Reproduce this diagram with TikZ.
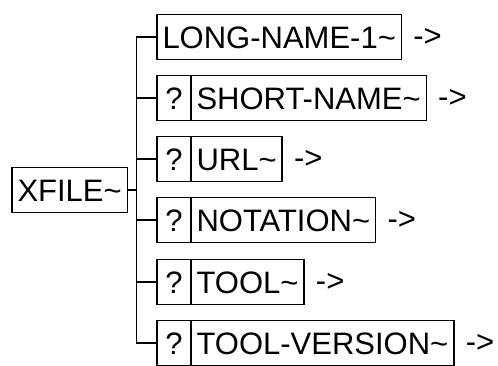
\documentclass[tikz,border=0pt]{standalone}
\usepackage{fontspec}
\setmainfont{Liberation Sans}
\usetikzlibrary{positioning}

\begin{document}
\begin{tikzpicture}[x=1pt, y=-1pt, line width=1.4pt,
  every node/.style={font=\fontsize{31}{34}\selectfont, outer sep=0pt},
  elem/.style={draw, minimum height=45pt, inner xsep=5.5pt, inner ysep=0pt, text height=22pt, text depth=0pt, anchor=west},
  opt/.style={elem, minimum width=34pt, inner xsep=0pt}]
\useasboundingbox (0,0) rectangle (498,365);
\node[elem] (xfile) at (12,190) {XFILE\textasciitilde};
\node[elem] (n1) at (157,37) {LONG-NAME-1\textasciitilde};
\node[opt] (q2) at (157,98) {?};
\node[elem, right=0pt of q2] (n2) {SHORT-NAME\textasciitilde};
\node[opt] (q3) at (157,159) {?};
\node[elem, right=0pt of q3] (n3) {URL\textasciitilde};
\node[opt] (q4) at (157,220) {?};
\node[elem, right=0pt of q4] (n4) {NOTATION\textasciitilde};
\node[opt] (q5) at (157,282) {?};
\node[elem, right=0pt of q5] (n5) {TOOL\textasciitilde};
\node[opt] (q6) at (157,343) {?};
\node[elem, right=0pt of q6] (n6) {TOOL-VERSION\textasciitilde};
% continuation marks
\foreach \r in {1,...,6} \node[inner sep=0pt, right=12pt of n\r] (a\r) {->};
% tree lines
\draw (xfile.east) -- ++(9,0) coordinate (trunk);
\draw (n1.west) -- (trunk |- n1.west) -- (trunk |- q6.west) -- (q6.west);
\foreach \r in {2,...,5} \draw (trunk |- q\r.west) -- (q\r.west);
\end{tikzpicture}
\end{document}
